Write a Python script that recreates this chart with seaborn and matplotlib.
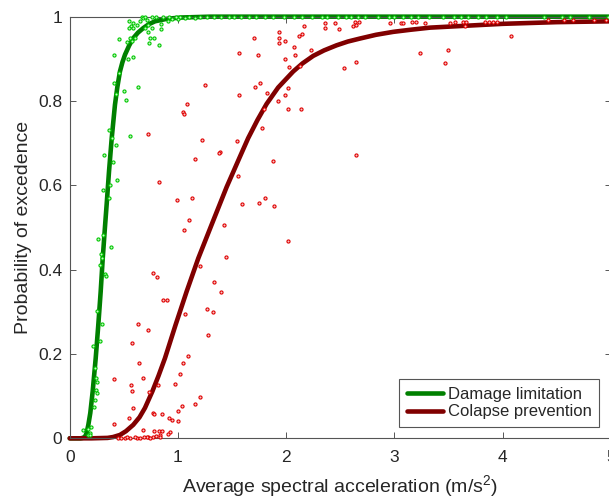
import matplotlib
matplotlib.use("Agg")
import matplotlib.pyplot as plt
import seaborn as sns

# Fragility curves
dl_curve_x = [0.00, 0.10, 0.12, 0.141, 0.155, 0.172, 0.19, 0.212, 0.240, 0.264, 0.286,
              0.305, 0.327, 0.341, 0.363, 0.388, 0.418, 0.44, 0.464, 0.487, 0.511,
              0.55, 0.587, 0.63, 0.68, 0.73, 0.788, 0.90, 1.03, 1.3, 2.0, 3.0, 4.0, 5.0]
dl_curve_y = [0.0, 0.0, 0.001, 0.004, 0.012, 0.032, 0.06, 0.111, 0.190, 0.269, 0.348,
              0.427, 0.506, 0.554, 0.633, 0.712, 0.791, 0.833, 0.870, 0.892, 0.910,
              0.932, 0.949, 0.962, 0.973, 0.982, 0.989, 0.995, 0.998, 1.0, 1.0, 1.0, 1.0, 1.0]

cp_curve_x = [0.0, 0.2, 0.35, 0.40, 0.464, 0.52, 0.587, 0.645, 0.695, 0.763, 0.82,
              0.88, 0.978, 1.08, 1.188, 1.31, 1.45, 1.573, 1.649, 1.735, 1.819,
              1.926, 2.065, 2.15, 2.25, 2.35, 2.465, 2.57, 2.68, 2.83, 2.99, 3.15,
              3.33, 3.7, 4.0, 4.5, 5.0]
cp_curve_y = [0.0, 0.0, 0.001, 0.003, 0.008, 0.017, 0.032, 0.050, 0.072, 0.111, 0.148,
              0.190, 0.269, 0.348, 0.427, 0.506, 0.596, 0.668, 0.712, 0.755, 0.793,
              0.832, 0.870, 0.889, 0.907, 0.920, 0.932, 0.941, 0.948, 0.957, 0.964, 0.969,
              0.974, 0.979, 0.983, 0.987, 0.989]

# Damage limitation observations
dl_pts_x = [0.551, 0.563, 0.582, 0.551, 0.588, 0.619, 0.649, 0.665, 0.680, 0.711,
            0.726, 0.695, 0.726, 0.763, 0.741, 0.781, 0.732, 0.827, 0.840, 0.840,
            0.911, 0.942, 1.003, 1.065, 1.157, 0.458, 0.526, 0.572, 0.557, 0.603,
            0.412, 0.582, 0.541, 0.458, 0.412, 0.631, 0.504, 0.425, 0.517, 0.366,
            0.388, 0.560, 0.425, 0.320, 0.403, 0.434, 0.372, 0.307, 0.366,
            0.261, 0.305, 0.379, 0.286, 0.295, 0.283, 0.326, 0.335, 0.249, 0.298,
            0.215, 0.283, 0.231, 0.243, 0.252, 0.243, 0.255, 0.234, 0.227, 0.126,
            0.166, 0.194, 0.187, 0.172, 0.190,
            0.70, 0.76, 0.80, 0.86, 0.92, 0.98, 1.02, 1.10, 1.20, 1.27, 1.33, 1.40,
            1.47, 1.52, 1.58, 1.66, 1.72, 1.80, 1.88, 1.98, 2.07, 2.15, 2.24, 2.33,
            2.38, 2.48, 2.55, 2.60, 2.66, 2.73, 2.85, 2.95, 3.00, 3.08, 3.15, 3.22,
            3.32, 3.45, 3.55, 3.62, 3.68, 3.77, 3.85, 3.95, 4.03, 4.38, 4.55, 4.62,
            4.80, 4.97]
dl_pts_y = [0.989, 0.979, 0.985, 0.973, 0.973, 0.981, 0.990, 1.0, 0.997, 0.993,
            0.981, 0.973, 0.963, 0.973, 0.949, 0.949, 0.937, 0.932, 0.982, 0.971,
            0.989, 0.995, 0.995, 0.997, 0.997, 0.947, 0.941, 0.943, 0.949, 0.949,
            0.908, 0.905, 0.899, 0.866, 0.843, 0.834, 0.823, 0.816, 0.802, 0.731,
            0.713, 0.717, 0.695, 0.672, 0.655, 0.613, 0.601, 0.589, 0.570,
            0.472, 0.483, 0.453, 0.437, 0.427, 0.412, 0.389, 0.386, 0.301, 0.271,
            0.218, 0.230, 0.166, 0.143, 0.133, 0.115, 0.107, 0.091, 0.075, 0.020,
            0.023, 0.027, 0.012, 0.008, 0.007,
            1.0, 1.0, 1.0, 1.0, 1.0, 1.0, 1.0, 1.0, 1.0, 1.0, 1.0, 1.0,
            1.0, 1.0, 1.0, 1.0, 1.0, 1.0, 1.0, 1.0, 1.0, 1.0, 1.0, 1.0,
            1.0, 1.0, 1.0, 1.0, 1.0, 1.0, 1.0, 1.0, 1.0, 1.0, 1.0, 1.0,
            1.0, 1.0, 1.0, 1.0, 1.0, 1.0, 1.0, 1.0, 1.0, 1.0, 1.0, 1.0,
            1.0, 1.0]

# Collapse prevention observations
cp_pts_x = [1.563, 1.252, 1.563, 1.080, 1.043, 1.058, 0.723, 1.219, 1.542, 1.391,
            1.376, 1.160, 1.551, 0.827, 0.988, 1.126, 1.588, 1.102, 1.425, 1.055,
            1.446, 1.206, 0.769, 0.803, 1.332, 1.400, 0.859, 0.896, 1.067, 1.265,
            1.320, 0.631, 0.723, 1.274, 0.575, 1.092, 0.640, 1.043, 1.021, 0.412,
            0.674, 0.975, 0.815, 0.563, 0.575, 0.732, 1.206, 1.160, 1.034, 0.584,
            0.997, 0.769, 0.781, 0.849, 0.550, 0.917, 0.942, 1.000, 0.412, 0.674,
            0.781, 0.827, 0.849, 0.929, 0.908, 0.837, 0.837, 0.723, 0.711, 0.769,
            0.689, 0.619, 0.560, 0.511, 0.449, 0.47, 0.53, 0.60, 0.65, 0.74, 0.80,
            1.702, 1.739, 1.714, 1.760, 1.819, 1.794, 1.773, 1.874, 1.748, 1.806,
            1.886, 1.933, 1.933, 1.933, 1.991, 2.163, 2.117, 2.142, 2.071, 1.991,
            2.083, 2.025, 2.129, 2.231, 2.016, 1.991, 1.921, 2.013, 2.139, 2.360,
            2.360, 2.452, 2.487, 2.613, 2.634, 2.647, 2.671, 2.533, 2.647, 2.647,
            2.958, 3.062, 3.075, 3.167, 3.201, 3.281, 3.235, 2.013,
            3.512, 3.558, 3.635, 3.659, 3.650, 3.835, 3.872, 3.911, 3.948, 4.075,
            3.500, 3.466, 4.42, 4.57, 4.65, 4.84, 4.96]
cp_pts_y = [0.914, 0.837, 0.814, 0.793, 0.773, 0.769, 0.722, 0.707, 0.704, 0.680,
            0.677, 0.663, 0.622, 0.607, 0.566, 0.569, 0.556, 0.518, 0.506, 0.495,
            0.430, 0.409, 0.392, 0.383, 0.371, 0.347, 0.329, 0.329, 0.295, 0.306,
            0.300, 0.271, 0.256, 0.244, 0.227, 0.196, 0.179, 0.179, 0.153, 0.141,
            0.143, 0.129, 0.126, 0.126, 0.112, 0.109, 0.097, 0.082, 0.076, 0.071,
            0.064, 0.061, 0.058, 0.058, 0.049, 0.049, 0.043, 0.041, 0.034, 0.020,
            0.017, 0.017, 0.017, 0.014, 0.011, 0.008, 0.004, 0.004, 0.002, 0.002,
            0.002, 0.0, 0.0, 0.0, 0.0, 0.0, 0.003, 0.002, 0.0, 0.0, 0.006,
            0.949, 0.908, 0.834, 0.843, 0.820, 0.781, 0.737, 0.658, 0.557, 0.569,
            0.551, 0.964, 0.949, 0.937, 0.943, 0.978, 0.955, 0.958, 0.929, 0.899,
            0.908, 0.881, 0.884, 0.920, 0.831, 0.814, 0.801, 0.781, 0.781, 0.985,
            0.973, 0.985, 0.970, 0.978, 0.988, 0.981, 0.988, 0.879, 0.893, 0.672,
            0.985, 0.985, 0.985, 0.988, 0.988, 0.985, 0.914, 0.468,
            0.985, 0.988, 0.988, 0.988, 0.979, 0.988, 0.988, 0.988, 0.988, 0.955,
            0.920, 0.890, 0.991, 0.991, 0.991, 0.991, 0.991]

x_ticks = [0, 1, 2, 3, 4, 5]
x_tick_labels = ["0", "1", "2", "3", "4", "5"]
y_ticks = [0, 0.2, 0.4, 0.6, 0.8, 1.0]
y_tick_labels = ["0", "0.2", "0.4", "0.6", "0.8", "1"]

sns.set_style("ticks")
plt.rcParams["font.family"] = ["Liberation Sans", "DejaVu Sans"]
plt.rcParams["mathtext.fontset"] = "custom"
plt.rcParams["mathtext.rm"] = "Liberation Sans"
plt.rcParams["mathtext.default"] = "regular"

fig = plt.figure(figsize=(6.09, 4.99), dpi=100)
ax = fig.add_axes([0.1145, 0.1216, 0.8885, 0.845])

# Fitted curves
sns.lineplot(x=dl_curve_x, y=dl_curve_y, ax=ax, color="#008000", lw=3.3,
             label="Damage limitation", clip_on=False, sort=False)
sns.lineplot(x=cp_curve_x, y=cp_curve_y, ax=ax, color="#800000", lw=3.3,
             label="Colapse prevention", clip_on=False, sort=False)

# Observations on top of the curves
sns.scatterplot(x=dl_pts_x, y=dl_pts_y, ax=ax, marker="o", s=5,
                facecolor="#c8f5c8", edgecolor="#00c800", linewidth=0.8,
                zorder=3, clip_on=False, legend=False)
sns.scatterplot(x=cp_pts_x, y=cp_pts_y, ax=ax, marker="o", s=5,
                facecolor="#f5c8c8", edgecolor="#e00000", linewidth=0.8,
                zorder=3, clip_on=False, legend=False)

ax.set_xlim(0, 5)
ax.set_ylim(0, 1)
ax.set_xticks(x_ticks)
ax.set_xticklabels(x_tick_labels)
ax.set_yticks(y_ticks)
ax.set_yticklabels(y_tick_labels)
ax.tick_params(direction="in", top=True, right=True, length=4.5, width=0.7,
               color="#555555", labelsize=12.5, labelcolor="#262626")
ax.tick_params(axis="x", pad=8.5)
ax.tick_params(axis="y", pad=5.5)
for s in ax.spines.values():
    s.set_color("#555555")
    s.set_linewidth(0.8)

ax.set_xlabel("Average spectral acceleration (m/s$^{2}$)", fontsize=14, color="#262626")
ax.xaxis.set_label_coords(0.5, -0.082)
ax.set_ylabel("Probability of excedence", fontsize=14, color="#262626")
ax.yaxis.set_label_coords(-0.07, 0.5)

leg = ax.legend(loc="lower right", bbox_to_anchor=(0.978, 0.027), fontsize=12,
                frameon=True, fancybox=False, edgecolor="#555555", framealpha=1,
                handlelength=2.15, handletextpad=0.3, borderpad=0.45,
                labelspacing=0.15, borderaxespad=0)
leg.get_frame().set_linewidth(0.8)

fig.savefig("out.png", dpi=100)
